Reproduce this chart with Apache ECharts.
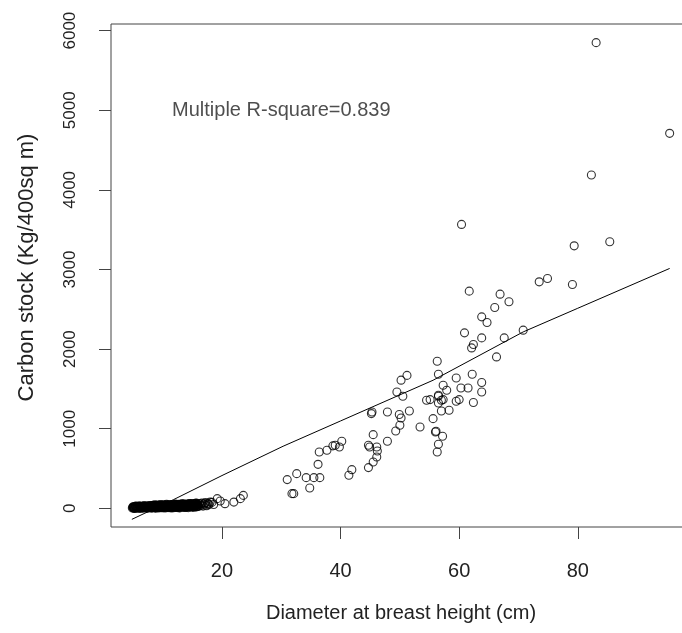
<!DOCTYPE html>
<html>
<head>
<meta charset="utf-8">
<script src="https://cdn.jsdelivr.net/npm/echarts@6/dist/echarts.min.js"></script>
<style>
  html, body { margin: 0; padding: 0; background: #fff; }
  #chart { width: 682px; height: 633px; }
</style>
</head>
<body>
<div id="chart"></div>
<script>
// points: diameter (cm) / carbon stock
const dbh = [
  60.4, 79.4, 85.4, 73.5, 74.9, 79.1, 61.7, 66.9, 68.4, 66.0, 63.8, 64.7, 60.9, 70.8, 63.8, 67.6,
  62.4, 62.1, 66.3, 56.3, 56.5, 59.5, 62.2, 63.8, 63.8, 57.3, 57.9, 60.3, 61.5, 56.5, 57.0, 55.1,
  59.5, 60.0, 62.4, 57.0, 58.3, 55.6, 56.1, 57.2, 56.5,
  83.1, 95.5, 82.3,
  50.2, 51.2, 49.5, 50.5, 45.3, 45.2, 47.9, 49.9, 50.2, 51.6, 54.5, 56.5, 57.3, 56.5, 50.0, 49.3,
  53.4, 56.0, 56.3, 45.5, 47.9, 44.7, 44.9, 46.1, 46.2, 46.1, 45.5, 44.7, 41.9, 41.4, 40.2, 39.1,
  38.7, 39.8, 37.7, 36.4, 36.2, 36.5, 35.5, 34.2, 34.8, 32.6, 31.0, 31.8, 32.1,
  19.2, 19.7, 20.5, 22.0, 23.1, 23.6, 18.0, 18.3, 18.6
];
const carbon = [
  3566, 3297, 3348, 2845, 2887, 2812, 2728, 2690, 2594, 2523, 2405, 2334, 2204, 2238, 2141, 2141,
  2058, 2015, 1902, 1848, 1684, 1638, 1684, 1580, 1462, 1546, 1483, 1512, 1512, 1420, 1358, 1366,
  1345, 1366, 1329, 1223, 1232, 1127, 968, 905, 805,
  5849, 4710, 4186,
  1610, 1670, 1462, 1408, 1211, 1190, 1211, 1178, 1135, 1223, 1358, 1408, 1366, 1324, 1043, 972,
  1022, 959, 708, 926, 842, 792, 770, 771, 720, 645, 582, 512, 486, 415, 842, 792,
  785, 771, 729, 708, 553, 386, 386, 386, 255, 436, 361, 185, 185,
  122, 92, 59, 79, 122, 163, 79, 75, 48
];
// the small trees, packed so tight they read as one black band
const smallDbh = [
  4.9, 5.0, 5.1, 5.2, 5.3, 5.4, 5.5, 5.6, 5.7, 5.8, 5.9, 6.0, 6.1, 6.2, 6.3, 6.4, 6.5, 6.6, 6.7, 6.8,
  6.9, 7.0, 7.1, 7.2, 7.3, 7.4, 7.5, 7.6, 7.7, 7.8, 7.9,
  8.0, 8.1, 8.2, 8.3, 8.4, 8.5, 8.6, 8.7, 8.8, 8.9, 9.0, 9.1, 9.2, 9.3, 9.4, 9.5, 9.6, 9.7, 9.8, 9.9,
  10.0, 10.1, 10.2, 10.3, 10.4, 10.5, 10.6, 10.7, 10.8, 10.9, 11.0, 11.1, 11.2, 11.3, 11.4, 11.5,
  11.6, 11.7, 11.8, 11.9,
  12.0, 12.1, 12.2, 12.3, 12.4, 12.5, 12.6, 12.7, 12.8, 12.9, 13.0, 13.1, 13.2, 13.3, 13.4, 13.5,
  13.6, 13.7, 13.8, 13.9, 14.0, 14.1, 14.2, 14.3, 14.4, 14.5, 14.6, 14.7, 14.8, 14.9, 15.0, 15.1,
  15.2, 15.3, 15.4, 15.5, 15.6, 15.7, 15.8, 15.9,
  16.0, 16.2, 16.4, 16.6, 16.8, 17.0, 17.2, 17.4, 17.6, 17.8,
  5.05, 5.25, 5.45, 5.65, 5.85, 6.05, 6.25, 6.45, 6.65, 6.85, 7.05, 7.25, 7.45, 7.65, 7.85,
  8.05, 8.25, 8.45, 8.65, 8.85, 9.05, 9.25, 9.45, 9.65, 9.85, 10.05, 10.25, 10.45, 10.65, 10.85,
  11.05, 11.25, 11.45, 11.65, 11.85, 12.05, 12.25, 12.45, 12.65, 12.85, 13.05, 13.25, 13.45,
  13.65, 13.85, 14.05, 14.25, 14.45, 14.65, 14.85, 15.05, 15.25, 15.45, 15.65, 15.85
];
const smallCarbon = [
  4, 18, 8, 22, 2, 14, 26, 6, 19, 10, 24, 3, 16, 28, 7, 20, 12, 25, 5, 17,
  29, 9, 21, 13, 27, 4, 18, 30, 8, 22, 14,
  11, 32, 5, 24, 38, 15, 28, 8, 35, 20, 41, 12, 30, 6, 26, 40, 17, 33, 10, 37,
  22, 44, 14, 31, 7, 27, 42, 18, 36, 11, 29, 45, 20, 38, 13, 33,
  47, 24, 9, 40,
  16, 43, 27, 50, 12, 36, 22, 48, 30, 8, 44, 25, 52, 18, 39, 28,
  55, 14, 46, 33, 20, 50, 37, 11, 42, 26, 58, 19, 47, 34, 60, 23,
  41, 15, 53, 30, 62, 21, 49, 38,
  25, 58, 40, 66, 30, 55, 72, 35, 62, 48,
  12, 1, 24, 9, 17, 27, 3, 21, 11, 31, 15, 6, 25, 19, 33,
  9, 29, 17, 43, 4, 23, 36, 13, 46, 27, 9, 39, 19, 48, 32,
  16, 41, 7, 35, 26, 52, 19, 38, 10, 45, 29, 56, 21,
  40, 13, 49, 32, 60, 24, 44, 17, 57, 35, 65, 28
];
// fitted line, read at a few places along it
const fitX = [4.8, 11.8, 20, 30.3, 40, 55.6, 70.8, 80, 95.5];
const fitY = [-138, 109, 412, 780, 1098, 1609, 2216, 2513, 3013];

const xTicks = [20, 40, 60, 80];
const yTicks = [0, 1000, 2000, 3000, 4000, 5000, 6000];
const note = 'Multiple R-square=0.839';
const notePos = [30, 5000];

const ink = '#222';
const font = 'Liberation Sans, Arial, sans-serif';

const ring = (bw) => ({ color: 'rgba(0,0,0,0)', borderColor: '#000', borderWidth: bw });

const chart = echarts.init(document.getElementById('chart'));
chart.setOption({
  animation: false,
  backgroundColor: '#fff',
  grid: {
    left: 111, top: 24, right: -9, bottom: 106,
    show: true, borderColor: '#444', borderWidth: 1,
    containLabel: false, outerBoundsMode: 'none'
  },
  xAxis: {
    type: 'value', min: 1.28, max: 99.1,
    name: 'Diameter at breast height (cm)',
    nameLocation: 'middle', nameGap: 76,
    nameTextStyle: { color: ink, fontSize: 20, fontFamily: font },
    axisLine: { show: false, onZero: false },
    axisTick: { show: true, length: 12, customValues: xTicks, lineStyle: { color: '#444' } },
    axisLabel: { customValues: xTicks, color: ink, fontSize: 20, fontFamily: font, margin: 34 },
    splitLine: { show: false }
  },
  yAxis: {
    type: 'value', min: -234, max: 6083,
    name: 'Carbon stock (Kg/400sq m)',
    nameLocation: 'middle', nameGap: 73,
    nameTextStyle: { color: ink, fontSize: 22, fontFamily: font, padding: [0, 0, 0, 16] },
    axisLine: { show: false, onZero: false },
    axisTick: { show: true, length: 12, customValues: yTicks, lineStyle: { color: '#444' } },
    axisLabel: {
      customValues: yTicks, rotate: 90, color: ink, fontSize: 17, fontFamily: font, margin: 32,
      formatter: (v) => String(v)
    },
    splitLine: { show: false }
  },
  series: [
    {
      type: 'scatter',
      data: dbh.map((x, i) => [x, carbon[i]]),
      symbol: 'circle', symbolSize: 8,
      itemStyle: ring(1.1),
      silent: true
    },
    {
      type: 'scatter',
      data: smallDbh.map((x, i) => [x, smallCarbon[i]]),
      symbol: 'circle', symbolSize: 8,
      itemStyle: ring(1.4),
      silent: true
    },
    {
      type: 'line',
      data: fitX.map((x, i) => [x, fitY[i]]),
      showSymbol: false, symbol: 'none',
      lineStyle: { color: '#000', width: 1 },
      silent: true
    },
    {
      type: 'scatter',
      data: [notePos],
      symbolSize: 0,
      label: {
        show: true, position: 'inside', formatter: note,
        color: ink, fontSize: 20, fontFamily: font
      },
      silent: true
    }
  ]
});
</script>
</body>
</html>
